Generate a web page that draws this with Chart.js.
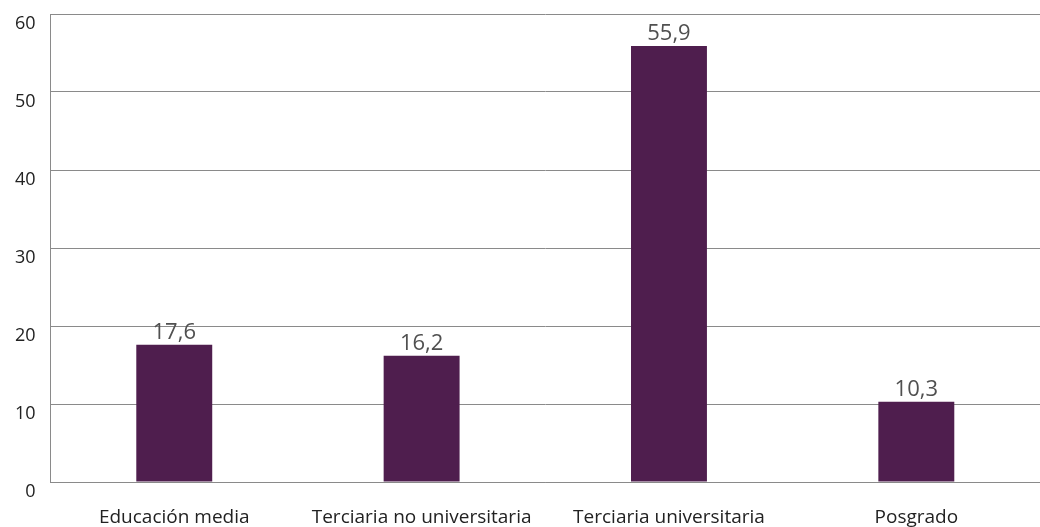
<!DOCTYPE html>
<html>
<head>
<meta charset="utf-8">
<style>
  html, body { margin: 0; padding: 0; background: #fff; }
  #chart { display: block; }
</style>
</head>
<body>
<canvas id="chart" width="1040" height="527"></canvas>
<script src="https://cdn.jsdelivr.net/npm/chart.js"></script>
<script>
const categories = ['Educación media', 'Terciaria no universitaria', 'Terciaria universitaria', 'Posgrado'];
const values = [17.6, 16.2, 55.9, 10.3];
const yTicks = [0, 10, 20, 30, 40, 50, 60];

// draws the value above each bar, with a decimal comma
const barLabels = {
    id: 'barLabels',
    afterDatasetsDraw(chart) {
        const ctx = chart.ctx;
        const meta = chart.getDatasetMeta(0);
        ctx.save();
        ctx.font = '22px "Open Sans"';
        ctx.fillStyle = '#505050';
        ctx.textAlign = 'center';
        ctx.textBaseline = 'bottom';
        meta.data.forEach(function(bar, i) {
            ctx.fillText(values[i].toFixed(1).replace('.', ','), bar.x, bar.y - 1);
        });
        ctx.restore();
    }
};

new Chart(document.getElementById('chart'), {
    type: 'bar',
    data: {
        labels: categories,
        datasets: [{
            data: values,
            backgroundColor: '#4f1e4e',
            barPercentage: 0.307,
            categoryPercentage: 1
        }]
    },
    options: {
        responsive: false,
        animation: false,
        layout: { padding: { top: 14, right: 0, bottom: 0, left: 0 } },
        plugins: {
            legend: { display: false },
            tooltip: { enabled: false }
        },
        scales: {
            y: {
                min: yTicks[0],
                max: yTicks[yTicks.length - 1],
                afterBuildTicks: function(scale) {
                    scale.ticks = yTicks.map(function(v) { return { value: v }; });
                },
                afterFit: function(scale) {
                    scale.paddingTop = 0;
                    scale.paddingBottom = 0;
                },
                ticks: {
                    color: '#222',
                    font: { family: '"Open Sans"', size: 18 },
                    padding: 15,
                    labelOffset: 10
                },
                grid: {
                    color: '#8a8a8a',
                    lineWidth: 1,
                    drawTicks: false
                },
                border: { color: '#8a8a8a', width: 1 }
            },
            x: {
                afterFit: function(scale) {
                    scale.height = 45;
                },
                ticks: {
                    color: '#222',
                    font: { family: '"Open Sans"', size: 19 },
                    padding: 24,
                    maxRotation: 0
                },
                grid: { display: false, drawTicks: false },
                border: { color: '#8a8a8a', width: 1 }
            }
        }
    },
    plugins: [barLabels]
});
</script>
</body>
</html>
